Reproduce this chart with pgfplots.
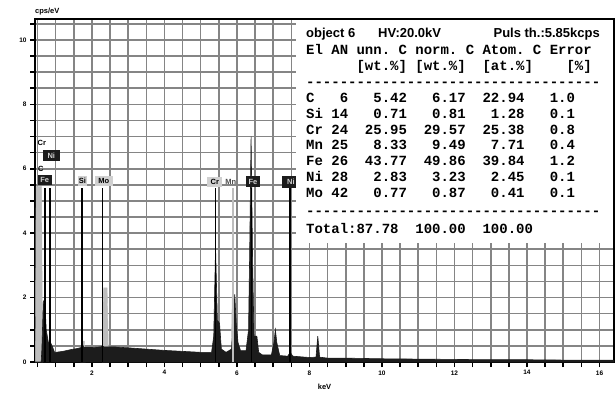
\documentclass[border=0pt]{standalone}
\usepackage{fontspec}
\setmainfont{Liberation Sans}
\setmonofont{Liberation Mono}
\usepackage{pgfplots}
\pgfplotsset{compat=1.18}
\usetikzlibrary{calc}
\definecolor{gridgray}{HTML}{858585}
\definecolor{specdark}{HTML}{1C1C1C}
\definecolor{speclight}{HTML}{BDBDBD}
\definecolor{boxlight}{HTML}{D0D0D0}
% pixel position of the reference -> axis units
\newcommand\X[1]{(#1-19.5)/36.25}
\newcommand\Y[1]{(362-#1)/32.2}
\newcommand\tabfont{\fontsize{14bp}{16bp}\selectfont\ttfamily\bfseries}
\newcommand\lblfont{\fontsize{7.5bp}{8bp}\selectfont\bfseries}

\begin{document}
\begin{tikzpicture}
\begin{axis}[
  scale only axis, width=579bp, height=343bp,
  xmin=0.43, xmax=16.4, ymin=0, ymax=10.65,
  xtick={0.5,1,...,16},
  xticklabels={,,,2,,,,4,,,,6,,,,8,,,,10,,,,12,,,,14,,,,16},
  ytick={0,0.5,...,10.5},
  yticklabels={0,,,,2,,,,4,,,,6,,,,8,,,,10,},
  xmajorgrids, ymajorgrids,
  major grid style={gridgray, line width=1.6bp},
  tick pos=left, tick align=outside,
  major tick length=5bp,
  tick style={black, line width=1.6bp},
  axis line style={black, line width=2.2bp},
  tick label style={font=\fontsize{6.5bp}{7bp}\selectfont\bfseries},
  /pgf/number format/assume math mode=true,
  xlabel={keV},
  xlabel style={font=\fontsize{7.5bp}{8bp}\selectfont\bfseries, yshift=-2bp},
  clip mode=individual,
]
% fitted / overlay peaks (light)
\addplot[fill=speclight, draw=speclight] coordinates {
  (0.44,0) (0.46,5.45) (0.61,5.45) (0.64,0)};
\addplot[fill=speclight, draw=speclight] coordinates {
  (1.69,0) (1.73,0.65) (1.79,0.65) (1.82,0)};
\addplot[fill=speclight, draw=speclight] coordinates {
  (2.28,0) (2.32,2.3) (2.42,2.3) (2.46,0)};
\addplot[fill=speclight, draw=speclight] coordinates {
  (5.84,0) (5.87,2.1) (5.92,2.1) (5.95,0)};
% measured spectrum
\addplot[fill=specdark, draw=specdark, line width=0.6bp] coordinates {
  (0.43,0) (0.60,0) (0.62,0.4) (0.66,1.9) (0.70,1.9) (0.74,1.0) (0.80,0.6)
  (0.86,0.6) (0.92,0.45) (0.97,0.3) (1.0,0.3) (1.2,0.33) (1.4,0.38)
  (1.6,0.42) (1.70,0.45) (1.74,0.55) (1.78,0.45) (2.0,0.45) (2.25,0.47)
  (2.29,0.5) (2.33,0.47) (2.6,0.47) (3.0,0.44) (3.5,0.40) (4.0,0.36)
  (4.5,0.33) (5.0,0.30) (5.30,0.30) (5.36,0.8) (5.41,3.55) (5.46,1.3)
  (5.52,1.2) (5.57,0.4) (5.70,0.3) (5.85,0.4) (5.90,1.2) (5.94,2.1)
  (5.98,1.2) (6.03,0.6) (6.10,0.35) (6.25,0.35) (6.32,1.0) (6.35,3.3)
  (6.39,7.0) (6.43,3.3) (6.47,0.8) (6.55,0.8) (6.60,0.3) (6.70,0.22)
  (6.95,0.22) (7.02,0.6) (7.06,1.0) (7.10,0.6) (7.18,0.2) (7.40,0.18)
  (7.47,0.3) (7.54,0.18) (8.0,0.14) (8.18,0.15) (8.23,0.8) (8.28,0.15)
  (8.5,0.12) (9.0,0.12) (9.5,0.11) (10.0,0.10) (11.0,0.09) (12.0,0.08)
  (13.0,0.07) (14.0,0.07) (15.0,0.06) (16.4,0.06) (16.4,0)} \closedcycle;
% element marker lines
\addplot[ycomb, black, line width=1.8bp, no marks] coordinates {
  (0.70,5.4) (0.84,5.4) (1.72,5.4) (2.29,5.4) (5.41,5.4) (6.40,5.4) (7.47,5.4)};
\addplot[ycomb, speclight, line width=1.8bp, no marks] coordinates {
  (5.90,5.4)};

% element labels
\node[font=\lblfont, inner sep=0pt] at (axis cs:0.62,6.80) {Cr};
\node[fill=specdark, text=boxlight, font=\lblfont, inner sep=1.5bp, minimum width=17bp, minimum height=11bp] at (axis cs:0.88,6.40) {Ni};
\node[font=\lblfont, inner sep=0pt] at (axis cs:0.59,6.0) {C};
\node[fill=specdark, text=boxlight, font=\lblfont, inner sep=1.5bp, minimum width=14bp, minimum height=10bp] at (axis cs:0.70,5.65) {Fe};
\node[fill=boxlight, text=black, font=\lblfont, inner sep=1.2bp, minimum height=10bp] at (axis cs:1.74,5.62) {Si};
\node[fill=boxlight, text=black, font=\lblfont, inner sep=1.5bp, minimum width=18bp, minimum height=10bp] at (axis cs:2.33,5.62) {Mo};
\node[fill=boxlight, text=black, font=\lblfont, inner sep=1.5bp, minimum width=15bp, minimum height=10bp] at (axis cs:5.39,5.59) {Cr};
\node[text=black!70, font=\lblfont, inner sep=0pt] at (axis cs:5.83,5.59) {Mn};
\node[fill=specdark, text=boxlight, font=\lblfont, inner sep=1.5bp, minimum width=14bp, minimum height=11bp] at (axis cs:6.44,5.59) {Fe};
\node[fill=specdark, text=boxlight, font=\lblfont, inner sep=1.5bp, minimum width=17bp, minimum height=12bp] at (axis cs:7.49,5.59) {Ni};

% quantification table
\fill[white] (axis cs:{\X{296}},{\Y{243}}) rectangle (axis cs:16.36,10.61);
\node[anchor=base west, inner sep=0pt, font=\fontsize{13bp}{15bp}\selectfont\bfseries] at (axis cs:{\X{306}},{\Y{38}}) {object 6};
\node[anchor=base west, inner sep=0pt, font=\fontsize{13bp}{15bp}\selectfont\bfseries] at (axis cs:{\X{378}},{\Y{38}}) {HV:20.0kV};
\node[anchor=base east, inner sep=0pt, font=\fontsize{13bp}{15bp}\selectfont\bfseries] at (axis cs:{\X{600}},{\Y{38}}) {Puls th.:5.85kcps};
\node[anchor=base west, inner sep=0pt, font=\tabfont] at (axis cs:{\X{306}},{\Y{55}}) {El~AN~unn.~C~norm.~C~Atom.~C~Error};
\node[anchor=base west, inner sep=0pt, font=\tabfont] at (axis cs:{\X{306}},{\Y{71}}) {~~~~~~[wt.\%]~[wt.\%]~~[at.\%]~~~~[\%]};
\node[anchor=base west, inner sep=0pt, font=\tabfont] at (axis cs:{\X{306}},{\Y{87}}) {-----------------------------------};
\node[anchor=base west, inner sep=0pt, font=\tabfont] at (axis cs:{\X{306}},{\Y{103}}) {C~~~6~~~5.42~~~6.17~~22.94~~~1.0};
\node[anchor=base west, inner sep=0pt, font=\tabfont] at (axis cs:{\X{306}},{\Y{119}}) {Si~14~~~0.71~~~0.81~~~1.28~~~0.1};
\node[anchor=base west, inner sep=0pt, font=\tabfont] at (axis cs:{\X{306}},{\Y{134.5}}) {Cr~24~~25.95~~29.57~~25.38~~~0.8};
\node[anchor=base west, inner sep=0pt, font=\tabfont] at (axis cs:{\X{306}},{\Y{150}}) {Mn~25~~~8.33~~~9.49~~~7.71~~~0.4};
\node[anchor=base west, inner sep=0pt, font=\tabfont] at (axis cs:{\X{306}},{\Y{166}}) {Fe~26~~43.77~~49.86~~39.84~~~1.2};
\node[anchor=base west, inner sep=0pt, font=\tabfont] at (axis cs:{\X{306}},{\Y{182}}) {Ni~28~~~2.83~~~3.23~~~2.45~~~0.1};
\node[anchor=base west, inner sep=0pt, font=\tabfont] at (axis cs:{\X{306}},{\Y{198}}) {Mo~42~~~0.77~~~0.87~~~0.41~~~0.1};
\node[anchor=base west, inner sep=0pt, font=\tabfont] at (axis cs:{\X{306}},{\Y{216}}) {-----------------------------------};
\node[anchor=base west, inner sep=0pt, font=\tabfont] at (axis cs:{\X{306}},{\Y{234}}) {Total:87.78~~100.00~~100.00};

\node[anchor=south west, inner sep=0pt, font=\fontsize{7.5bp}{8bp}\selectfont\bfseries] at (rel axis cs:0,1) [yshift=3.5bp] {cps/eV};
\end{axis}
\path[use as bounding box] ($(current axis.south west)+(-35bp,-41bp)$) rectangle ($(current axis.north east)+(2bp,19bp)$);
\end{tikzpicture}
\end{document}
